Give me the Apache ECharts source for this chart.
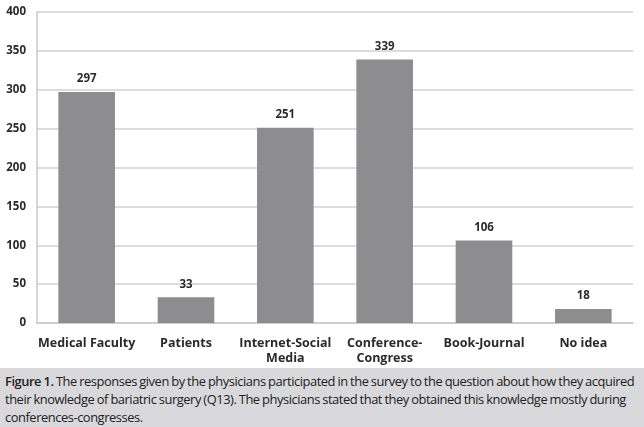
<!DOCTYPE html>
<html>
<head>
<meta charset="utf-8">
<script src="https://cdn.jsdelivr.net/npm/echarts@6/dist/echarts.min.js"></script>
<style>
  html, body { margin: 0; padding: 0; background: #fff; }
  #wrap { width: 644px; height: 427px; position: relative; overflow: hidden; }
  #chart { width: 644px; height: 368px; }
  #caption {
    position: absolute; left: 0; top: 368px; width: 644px; height: 59px;
    background: #d9d9db; box-sizing: border-box; padding: 4px 0 0 5px;
    font-family: "Open Sans", sans-serif; font-size: 12.9px; line-height: 18px; color: #222;
    letter-spacing: -0.45px; word-spacing: -0.5px; white-space: nowrap;
  }
  #caption b { font-weight: 600; }
</style>
</head>
<body>
<div id="wrap">
  <div id="chart"></div>
  <div id="caption"><b>Figure 1.</b> The responses given by the physicians participated in the survey to the question about how they acquired<br>their knowledge of bariatric surgery (Q13). The physicians stated that they obtained this knowledge mostly during<br>conferences-congresses.</div>
</div>
<script>
// kategoriler ve değerler
var categories = ['Medical Faculty', 'Patients', 'Internet-Social\nMedia', 'Conference-\nCongress', 'Book-Journal', 'No idea']
var values = [297, 33, 251, 339, 106, 18]
var yTicks = [0, 50, 100, 150, 200, 250, 300, 350, 400]

var chart = echarts.init(document.getElementById('chart'))
var boldText = { fontFamily: 'Open Sans', fontWeight: 'bold', color: '#2a2a2a' }

chart.setOption({
  animation: false,
  grid: { left: 37, right: 11, top: 12, bottom: 45 },
  xAxis: {
    type: 'category',
    data: categories,
    axisTick: { show: false },
    axisLine: { lineStyle: { color: '#c8c8c8', width: 1.5 } },
    axisLabel: Object.assign({ fontSize: 12.5, margin: 13, lineHeight: 15, interval: 0 }, boldText)
  },
  yAxis: {
    type: 'value',
    min: yTicks[0],
    max: yTicks[yTicks.length - 1],
    interval: 50,
    axisLine: { show: true, lineStyle: { color: '#c8c8c8', width: 1.5 } },
    axisTick: { show: false },
    splitLine: { lineStyle: { color: '#d0d0d0', width: 1.5 } },
    axisLabel: Object.assign({ fontSize: 11.5, margin: 11 }, boldText)
  },
  series: [{
    type: 'bar',
    data: values,
    barWidth: '57%',
    itemStyle: { color: '#8d8d8f' },
    label: Object.assign({ show: true, position: 'top', distance: 7, fontSize: 11.5 }, boldText)
  }]
})
</script>
</body>
</html>
